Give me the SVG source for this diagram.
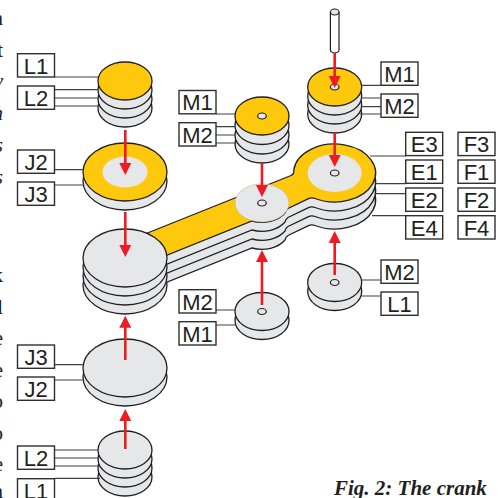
<svg xmlns="http://www.w3.org/2000/svg" xmlns:xlink="http://www.w3.org/1999/xlink" width="503" height="498" viewBox="0 0 503 498">
<style>
.d{fill:#e6e7e8;stroke:#231f20;stroke-width:1.3}
.y{fill:#fec90c;stroke:#231f20;stroke-width:1.3}
.g{fill:#e6e7e8;stroke:none}
.h{fill:#e6e7e8;stroke:#231f20;stroke-width:1.2}
.b{fill:#fff;stroke:#2f2f31;stroke-width:1.4}
.t{font-family:"Liberation Sans",Arial,sans-serif;font-size:22px;fill:#231f20;text-anchor:middle}
.l{stroke:#414042;stroke-width:1.2;fill:none}
.a{stroke:#ed1c24;stroke-width:2.6;fill:none}
.f{fill:#ed1c24;stroke:none}
.c{font-family:"Liberation Serif","Times New Roman",serif;font-size:21px;font-weight:bold;fill:#231f20}
.e{font-family:"Liberation Serif","Times New Roman",serif;font-size:21px;fill:#231f20;text-anchor:end}
.i{font-style:italic}
</style>
<defs>
<path id="crank" d="M120 244L291 175.500Q294.300 174.200 293.800 170A41 29 0 1 1 315 198.500Q311.500 197.200 308 198.800L288 208.500Q285.500 210 285 213A27 19 0 0 1 252 221L120 274Z"/>
<g id="lb"><rect class="b" width="37" height="23.300"/></g>
</defs>
<g id="margin-text">
<text class="e" x="3" y="25">n</text>
<text class="e" x="3" y="57">t</text>
<text class="e i" x="3" y="88">v</text>
<text class="e i" x="3" y="120">n</text>
<text class="e i" x="3" y="152">s</text>
<text class="e i" x="3" y="184">s</text>
<text class="e" x="3" y="282">k</text>
<text class="e" x="3" y="314">l</text>
<text class="e" x="3" y="345">e</text>
<text class="e" x="3" y="377">e</text>
<text class="e" x="3" y="408">o</text>
<text class="e" x="3" y="440">o</text>
<text class="e" x="3" y="471">e</text>
<text class="e" x="3" y="498">n</text>
</g>
<g id="crank-arm">
<use xlink:href="#crank" y="27" class="d"/>
<use xlink:href="#crank" y="18" class="d"/>
<use xlink:href="#crank" y="9" class="d"/>
<use xlink:href="#crank" class="y"/>
<ellipse class="g" cx="334.700" cy="173" rx="27" ry="19"/>
<ellipse cx="262" cy="203" rx="27" ry="19" fill="#e6e7e8" stroke="#b9a974" stroke-width="0.5"/>
<ellipse class="h" cx="334.700" cy="173" rx="4.300" ry="3"/>
<ellipse class="h" cx="262" cy="203" rx="4.300" ry="3"/>
</g>
<g id="stack-big">
<ellipse class="d" cx="125" cy="285" rx="42" ry="29"/>
<ellipse class="d" cx="125" cy="276" rx="42" ry="29"/>
<ellipse class="d" cx="125" cy="267" rx="42" ry="29"/>
<ellipse class="d" cx="125" cy="258" rx="42" ry="29"/>
</g>
<g id="stack-l-top">
<ellipse class="d" cx="125" cy="108" rx="27" ry="19"/>
<ellipse class="d" cx="125" cy="99" rx="27" ry="19"/>
<ellipse class="d" cx="125" cy="90" rx="27" ry="19"/>
<ellipse class="y" cx="125" cy="81" rx="27" ry="19"/>
</g>
<g id="ring-j-top">
<ellipse class="d" cx="125" cy="181" rx="42" ry="29"/>
<ellipse class="y" cx="125" cy="172" rx="42" ry="29"/>
<ellipse class="g" cx="125" cy="172" rx="22.500" ry="15.500"/>
</g>
<g id="disc-j-bottom">
<ellipse class="d" cx="125" cy="377" rx="42" ry="29"/>
<ellipse class="d" cx="125" cy="368" rx="42" ry="29"/>
</g>
<g id="stack-l-bottom">
<ellipse class="d" cx="125" cy="477" rx="27" ry="19"/>
<ellipse class="d" cx="125" cy="468" rx="27" ry="19"/>
<ellipse class="d" cx="125" cy="459" rx="27" ry="19"/>
<ellipse class="d" cx="125" cy="450" rx="27" ry="19"/>
</g>
<g id="pin">
<path d="M330.400 12V50A4.300 3 0 0 0 339 50V12" fill="#fff" stroke="#231f20" stroke-width="1.2"/>
<ellipse cx="334.700" cy="12" rx="4.300" ry="3" fill="#e6e7e8" stroke="#231f20" stroke-width="1.2"/>
</g>
<g id="stack-m-right">
<ellipse class="d" cx="334.700" cy="114" rx="27" ry="19"/>
<ellipse class="d" cx="334.700" cy="105" rx="27" ry="19"/>
<ellipse class="d" cx="334.700" cy="96" rx="27" ry="19"/>
<ellipse class="y" cx="334.700" cy="87" rx="27" ry="19"/>
<ellipse class="h" cx="334.700" cy="87" rx="4.300" ry="3"/>
</g>
<g id="stack-m-left">
<ellipse class="d" cx="262" cy="144" rx="27" ry="19"/>
<ellipse class="d" cx="262" cy="135" rx="27" ry="19"/>
<ellipse class="d" cx="262" cy="125.500" rx="27" ry="19"/>
<ellipse class="y" cx="262" cy="116" rx="27" ry="19"/>
<ellipse class="h" cx="262" cy="116" rx="4.300" ry="3"/>
</g>
<g id="disc-m-right-lower">
<ellipse class="d" cx="334.700" cy="291.500" rx="27" ry="19"/>
<ellipse class="d" cx="334.700" cy="282.500" rx="27" ry="19"/>
<ellipse class="h" cx="334.700" cy="282.500" rx="4.300" ry="3"/>
</g>
<g id="disc-m-left-lower">
<ellipse class="d" cx="262" cy="320.500" rx="27" ry="19"/>
<ellipse class="d" cx="262" cy="311.500" rx="27" ry="19"/>
<ellipse class="h" cx="262" cy="311.500" rx="4.300" ry="3"/>
</g>
<g id="connectors">
<path class="l" d="M55 77H98M55 89.700H98M55 98H98M55 106H99M55 169.700H83M55 185H84M55 364.700H83M55 380H84M55 450H98M55 458H99M55 466H100M55 478.300H100"/>
<path class="l" d="M361 85.300H381M361 98H381M361 106.700H381M360 114H381M235 114H216M235 126.700H216M235 135H216M236 143H216"/>
<path class="l" d="M370 156H406M375.500 183.700H406M376 193.700H406M372 215.700H406M361 280H381M361 296H381M235 310H216M236 325H216"/>
<path class="a" d="M125.300 130V164M125.300 212V246M125.300 360V327M125.300 449V420M334.700 53V77M334.700 133V156M262 163V186M334.700 275V242M262 305V261"/>
<path class="f" d="M119.300 163H131.300L125.300 175ZM119.300 245H131.300L125.300 257ZM119.300 327.700H131.300L125.300 315.700ZM119.300 421H131.300L125.300 409ZM328.700 76H340.700L334.700 88ZM328.700 155H340.700L334.700 167ZM256 185H268L262 197ZM328.700 243H340.700L334.700 231ZM256 262H268L262 250Z"/>
</g>
<g id="label-l1-top"><use xlink:href="#lb" x="17.500" y="53.700"/><text class="t" x="36" y="73.500">L1</text></g>
<g id="label-l2-top"><use xlink:href="#lb" x="17.500" y="86"/><text class="t" x="36" y="105.800">L2</text></g>
<g id="label-j2-top"><use xlink:href="#lb" x="17.500" y="150"/><text class="t" x="36" y="169.800">J2</text></g>
<g id="label-j3-top"><use xlink:href="#lb" x="17.500" y="182"/><text class="t" x="36" y="201.800">J3</text></g>
<g id="label-j3-bottom"><use xlink:href="#lb" x="17.500" y="345"/><text class="t" x="36" y="364.800">J3</text></g>
<g id="label-j2-bottom"><use xlink:href="#lb" x="17.500" y="377"/><text class="t" x="36" y="396.800">J2</text></g>
<g id="label-l2-bottom"><use xlink:href="#lb" x="17.500" y="446"/><text class="t" x="36" y="465.800">L2</text></g>
<g id="label-l1-bottom"><use xlink:href="#lb" x="17.500" y="478.700"/><text class="t" x="36" y="498.500">L1</text></g>
<g id="label-m1-right"><use xlink:href="#lb" x="381" y="62"/><text class="t" x="399.500" y="81.800">M1</text></g>
<g id="label-m2-right"><use xlink:href="#lb" x="381" y="94"/><text class="t" x="399.500" y="113.800">M2</text></g>
<g id="label-m1-left"><use xlink:href="#lb" x="179" y="90.500"/><text class="t" x="197.500" y="110.300">M1</text></g>
<g id="label-m2-left"><use xlink:href="#lb" x="179" y="122.700"/><text class="t" x="197.500" y="142.500">M2</text></g>
<g id="label-e3"><use xlink:href="#lb" x="405.700" y="132.300"/><text class="t" x="424.200" y="152.100">E3</text></g>
<g id="label-e1"><use xlink:href="#lb" x="405.700" y="160"/><text class="t" x="424.200" y="179.800">E1</text></g>
<g id="label-e2"><use xlink:href="#lb" x="405.700" y="188"/><text class="t" x="424.200" y="207.800">E2</text></g>
<g id="label-e4"><use xlink:href="#lb" x="405.700" y="215.700"/><text class="t" x="424.200" y="235.500">E4</text></g>
<g id="label-f3"><use xlink:href="#lb" x="458" y="132.300"/><text class="t" x="476.500" y="152.100">F3</text></g>
<g id="label-f1"><use xlink:href="#lb" x="458" y="160"/><text class="t" x="476.500" y="179.800">F1</text></g>
<g id="label-f2"><use xlink:href="#lb" x="458" y="188"/><text class="t" x="476.500" y="207.800">F2</text></g>
<g id="label-f4"><use xlink:href="#lb" x="458" y="215.700"/><text class="t" x="476.500" y="235.500">F4</text></g>
<g id="label-m2-lower-right"><use xlink:href="#lb" x="381" y="260"/><text class="t" x="399.500" y="279.800">M2</text></g>
<g id="label-l1-lower-right"><use xlink:href="#lb" x="381" y="292"/><text class="t" x="399.500" y="311.800">L1</text></g>
<g id="label-m2-lower-left"><use xlink:href="#lb" x="179" y="289.700"/><text class="t" x="197.500" y="309.500">M2</text></g>
<g id="label-m1-lower-left"><use xlink:href="#lb" x="179" y="321.700"/><text class="t" x="197.500" y="341.500">M1</text></g>
<text class="c i" x="334" y="495">Fig. 2: The crank</text>
</svg>
